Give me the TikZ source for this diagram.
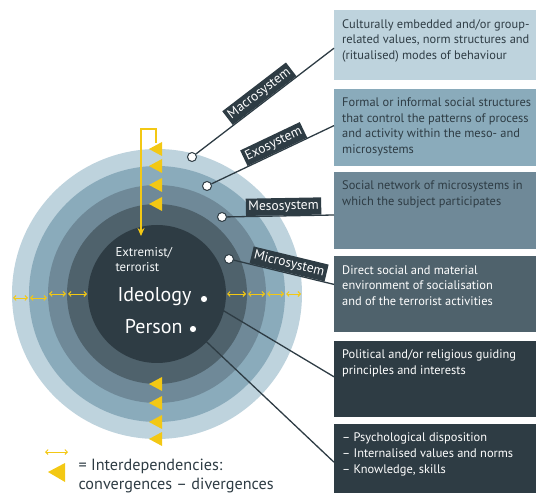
\documentclass[tikz,border=0pt]{standalone}
\usepackage{fontspec}
\setmainfont{PT Sans}
\usetikzlibrary{arrows,arrows.meta,positioning,calc}
\definecolor{ringA}{RGB}{190,211,221}
\definecolor{ringB}{RGB}{138,171,187}
\definecolor{ringC}{RGB}{111,137,152}
\definecolor{ringD}{RGB}{79,98,108}
\definecolor{core}{RGB}{46,60,68}
\definecolor{signal}{RGB}{243,200,20}
\tikzset{
  descbox/.style={rectangle,minimum width=202pt,inner sep=0pt},
  desctext/.style={anchor=north west,align=left,
    inner xsep=8pt,inner ysep=9pt,font=\fontsize{12.4}{15.8}\selectfont},
  syslabel/.style={fill=core,text=white,inner sep=2.5pt,sloped,above,
    font=\fontsize{13.5}{14}\selectfont},
  dot/.style={circle,draw=core,fill=white,line width=1pt,inner sep=0pt,minimum size=9pt},
  connector/.style={draw=core,line width=1.3pt},
  flow/.style={{Straight Barb[length=2.5pt,width=5pt]}-{Straight Barb[length=2.5pt,width=5pt]},
    signal,line width=0.9pt},
  wedge/.style={fill=signal}
}
\begin{document}
\begin{tikzpicture}[x=1pt,y=-1pt,node distance=7pt]
  \useasboundingbox (0,0) rectangle (536,497);
  \coordinate (centre) at (157,294);

  % rings
  \fill[ringA] (centre) circle (145pt);
  \fill[ringB] (centre) circle (128pt);
  \fill[ringC] (centre) circle (109pt);
  \fill[ringD] (centre) circle (90pt);
  \fill[core] (centre) circle (69pt);

  % description boxes
  \node[descbox,fill=ringA,minimum height=70pt,anchor=north west] (box1) at (334,10) {};
  \node[descbox,fill=ringB,minimum height=77pt,below=8pt of box1] (box2) {};
  \node[descbox,fill=ringC,minimum height=77pt,below=6pt of box2] (box3) {};
  \node[descbox,fill=ringD,minimum height=76pt,below=7pt of box3] (box4) {};
  \node[descbox,fill=core,minimum height=76pt,below=8pt of box4] (box5) {};
  \node[descbox,fill=core,minimum height=69pt,below=7pt of box5] (box6) {};

  \node[desctext,text=core] (t1) at (box1.north west) {Culturally embedded and/or group-\\related values, norm structures and\\(ritualised) modes of behaviour};
  \node[desctext,text=core] (t2) at (box2.north west) {Formal or informal social structures\\that control the patterns of process\\and activity within the meso- and\\microsystems};
  \node[desctext,text=core] (t3) at (box3.north west) {Social network of microsystems in\\which the subject participates};
  \node[desctext,text=white] (t4) at (box4.north west) {Direct social and material\\environment of socialisation\\and of the terrorist activities};
  \node[desctext,text=white] (t5) at (box5.north west) {Political and/or religious guiding\\principles and interests};
  \node[desctext,text=white] (t6) at (box6.north west) {– Psychological disposition\\– Internalised values and norms\\– Knowledge, skills};

  % core texts
  \node[anchor=west,align=left,text=white!88!ringA,font=\fontsize{12.8}{15}\selectfont] (extr) at (112,260) {Extremist/\\terrorist};
  \node[anchor=east,text=white,font=\fontsize{20}{22}\selectfont] (ideol) at (195,297) {Ideology};
  \node[anchor=east,text=white,font=\fontsize{20}{22}\selectfont] (pers) at (186,327) {Person};

  % dots
  \node[dot] (macro) at (192,157) {};
  \node[dot] (exo) at (207,186) {};
  \node[dot] (meso) at (222,217) {};
  \node[dot] (micro) at (229,259) {};
  \node[dot,minimum size=7.5pt] (ideodot) at (204,299) {};
  \node[dot,minimum size=7.5pt] (persdot) at (193,329) {};

  % connectors
  \path[connector]
    (macro) edge node[syslabel,pos=0.5] {Macrosystem} ([yshift=-3pt]box1.west)
    (exo) edge node[syslabel,pos=0.54] {Exosystem} ([yshift=1.5pt]box2.west)
    (meso) edge node[syslabel,pos=0.53] {Mesosystem} ([yshift=-4.5pt]box3.west)
    (micro) edge node[syslabel,pos=0.53] {Microsystem} ([yshift=10pt]box4.west)
    (ideodot) edge ([yshift=2pt]box5.west)
    (persdot) edge ([yshift=-3.5pt]box6.west);

  % interdependencies
  \draw[signal,line width=1.2pt,-{Stealth[length=8pt,width=7pt]}] (156,143) -- (156,129) -- (141,129) -- (141,236);
  \foreach \r in {145,128,109,90} {
    \fill[wedge] ($(centre)+(-8,-\r)$) -- ++(13,-7) -- ++(0,14) -- cycle;
    \fill[wedge] ($(centre)+(-8,\r)$) -- ++(13,-7) -- ++(0,14) -- cycle;
  }
  \foreach \a/\b/\dy in {145/128/4,128/109/4,109/90/0,90/69/0} {
    \draw[flow] ($(centre)+(-\a+1,\dy)$) -- ($(centre)+(-\b-1,\dy)$);
    \draw[flow] ($(centre)+(\b+1,0)$) -- ($(centre)+(\a-1,0)$);
  }

  % legend
  \draw[flow] (45,452) -- (68,452);
  \fill[wedge] (48,472) -- (65,463) -- (65,482) -- cycle;
  \node[anchor=west,align=left,text=core,font=\fontsize{16.2}{19}\selectfont] (legend) at (75,476) {= Interdependencies:\\convergences – divergences};
\end{tikzpicture}
\end{document}
